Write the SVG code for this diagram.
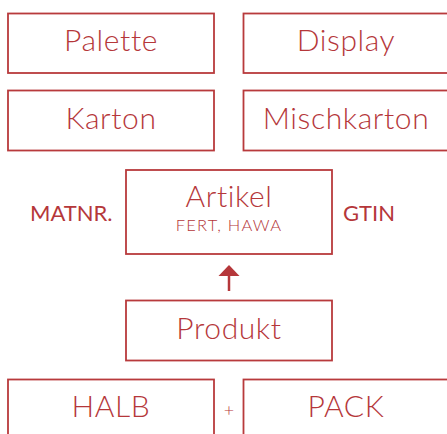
<svg xmlns="http://www.w3.org/2000/svg" width="447" height="434" viewBox="0 0 447 434">
<style>
.box{fill:#fff;stroke:#b83a3c;stroke-width:1.8}
.t{font-family:Lato,"Open Sans",sans-serif;font-weight:300;fill:#b5373a;text-anchor:middle}
.big{font-size:30px;letter-spacing:0.6px}
.sub{font-size:16.5px;letter-spacing:1.2px}
.lab{font-family:Lato,"Open Sans",sans-serif;font-weight:400;fill:#b5373a;font-size:22px}
</style>
<rect width="447" height="434" fill="#fff"/>
<g id="palette"><rect class="box" x="8" y="13.5" width="206" height="59.5"/><text class="t big" x="111" y="51">Palette</text></g>
<g id="display"><rect class="box" x="243.5" y="13.5" width="210" height="59.5"/><text class="t big" x="346" y="51">Display</text></g>
<g id="karton"><rect class="box" x="8" y="90.5" width="206" height="60"/><text class="t big" x="111" y="129">Karton</text></g>
<g id="mischkarton"><rect class="box" x="243.5" y="90.5" width="210" height="60"/><text class="t big" x="346" y="129">Mischkarton</text></g>
<g id="artikel"><rect class="box" x="126" y="170" width="206" height="84"/><text class="t big" x="229" y="207">Artikel</text><text class="t sub" x="229" y="231">FERT, HAWA</text></g>
<g id="matnr"><text class="lab" x="30" y="221">MATNR.</text></g>
<g id="gtin"><text class="lab" x="343" y="221">GTIN</text></g>
<g id="produkt"><rect class="box" x="126" y="300.5" width="206" height="60"/><text class="t big" x="229" y="339">Produkt</text></g>
<g id="halb"><rect class="box" x="8" y="379.5" width="206" height="70"/><text class="t big" x="111" y="417">HALB</text></g>
<g id="pack"><rect class="box" x="243.5" y="379.5" width="210" height="70"/><text class="t big" x="346" y="417">PACK</text></g>
<g id="plus"><text class="t" style="font-size:18px" x="229" y="416">+</text></g>
<g id="connectors"><line x1="229" y1="291" x2="229" y2="274" stroke="#b5373a" stroke-width="2.5"/><polygon points="229,265 218.5,276 239.5,276" fill="#b5373a"/></g>
</svg>
